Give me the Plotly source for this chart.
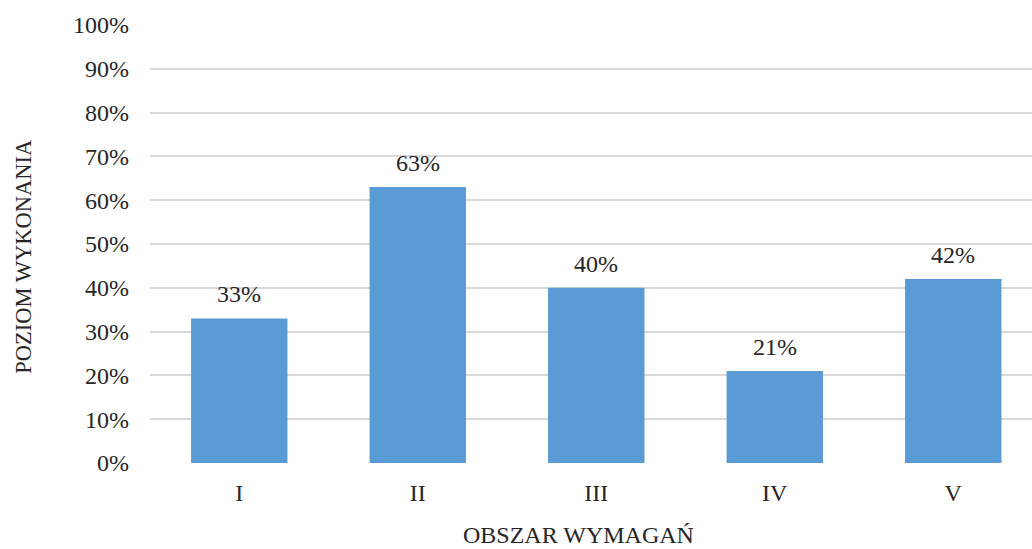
import plotly.graph_objects as go

categories = ["I", "II", "III", "IV", "V"]
values = [33, 63, 40, 21, 42]
y_ticks = list(range(0, 101, 10))
y_tick_labels = [f"{v}%" for v in y_ticks]
x_title = "OBSZAR WYMAGAŃ"
y_title = "POZIOM WYKONANIA"

FONT = "Liberation Serif"
TXT = "#262626"
xs = list(range(len(categories)))

fig = go.Figure(go.Bar(
    x=xs,
    y=values,
    width=0.54,
    marker=dict(color="#5B9BD5", line=dict(width=0)),
    hoverinfo="x+y",
))

for x, v in zip(xs, values):
    fig.add_annotation(x=x, y=v, text=f"{v}%", showarrow=False,
                       yanchor="middle", yshift=24,
                       font=dict(family=FONT, size=24, color=TXT))

# axis titles (placed as in the reference)
fig.add_annotation(xref="paper", yref="paper", x=0.486, y=-0.165,
                   xanchor="center", yanchor="middle", showarrow=False,
                   text=x_title, font=dict(family=FONT, size=24, color=TXT))
fig.add_annotation(xref="paper", yref="paper", x=-0.1429, y=0.473,
                   xanchor="center", yanchor="middle", showarrow=False,
                   textangle=-90,
                   text=y_title, font=dict(family=FONT, size=22.5, color=TXT))

fig.update_layout(
    width=1032, height=549,
    margin=dict(l=150, r=0, t=25, b=86),
    paper_bgcolor="white", plot_bgcolor="white",
    showlegend=False,
    font=dict(family=FONT, size=24, color=TXT),
    xaxis=dict(
        tickmode="array", tickvals=xs, ticktext=categories,
        range=[-0.5, 4.441], showgrid=False, zeroline=False, showline=False,
        ticks="", ticklabelstandoff=13, automargin=False,
        tickfont=dict(family=FONT, size=24, color=TXT),
    ),
    yaxis=dict(
        range=[0, 100], tickmode="array", tickvals=y_ticks, ticktext=y_tick_labels,
        showgrid=True, gridcolor="#D9D9D9", gridwidth=1.5, zeroline=False, showline=False,
        ticks="", ticklabelstandoff=20, automargin=False,
        tickfont=dict(family=FONT, size=24, color=TXT),
    ),
)

fig.write_html(
    "out.html",
    config={"displayModeBar": False},
    post_script="document.body.style.margin='0';document.body.style.overflow='hidden';",
)
